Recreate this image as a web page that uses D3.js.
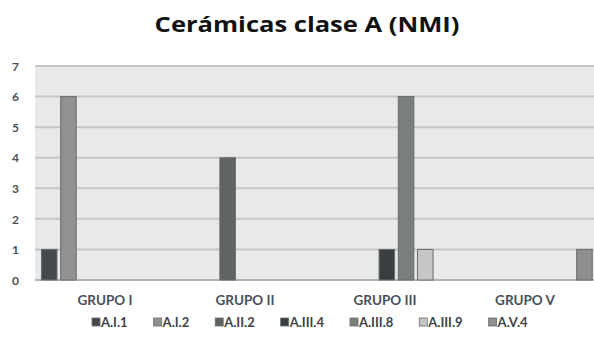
<!DOCTYPE html>
<html><head><meta charset="utf-8">
<script src="https://cdn.jsdelivr.net/npm/d3@7"></script>
<style>body{margin:0;background:#fff}svg{display:block}</style>
</head><body>
<svg id="c" width="594" height="344"></svg>
<script>
const categories = ["GRUPO I","GRUPO II","GRUPO III","GRUPO V"];
const seriesNames = ["A.I.1","A.I.2","A.II.2","A.III.4","A.III.8","A.III.9","A.V.4"];
const sA_I_1   = [1,0,0,0];
const sA_I_2   = [6,0,0,0];
const sA_II_2  = [0,4,0,0];
const sA_III_4 = [0,0,1,0];
const sA_III_8 = [0,0,6,0];
const sA_III_9 = [0,0,1,0];
const sA_V_4   = [0,0,0,1];
const yTicks = [0,1,2,3,4,5,6,7];
const colors = ["#46494b","#909191","#5f6363","#3b3e40","#7b7e7f","#c4c6c7","#8d8f90"];

const seriesValues = [sA_I_1,sA_I_2,sA_II_2,sA_III_4,sA_III_8,sA_III_9,sA_V_4];
const svg = d3.select("#c");
const font = "Lato, 'Open Sans', sans-serif";

const x0 = d3.scaleBand().domain(categories).range([35, 595]).padding(0);
const x1 = d3.scaleBand().domain(seriesNames).range([0, x0.bandwidth()])
  .paddingInner(0.19).paddingOuter(0.24).align(0.7);
const y = d3.scaleLinear().domain([0,7]).range([280, 66]);

// plot background
svg.append("rect").attr("x",35).attr("y",y(7)).attr("width",559).attr("height",y(0)-y(7)).attr("fill","#e9e9e9");

// gridlines
svg.append("g").selectAll("line").data(yTicks).join("line")
  .attr("x1",35).attr("x2",594)
  .attr("y1",d=>y(d)).attr("y2",d=>y(d))
  .attr("stroke",d=>d===0?"#b4b4b4":"#c6c6c6").attr("stroke-width",2);

// y axis labels
const yAxis = d3.axisLeft(y).tickValues(yTicks).tickSize(0).tickPadding(0).tickFormat(d3.format("d"));
const ya = svg.append("g").attr("transform","translate(19,0)").call(yAxis);
ya.select(".domain").remove();
ya.selectAll("text").attr("font-family",font).attr("font-weight","bold").attr("font-size",12).attr("fill","#4a4f58").attr("text-anchor","end").attr("dy","0.35em");

// bars
const groups = svg.append("g").selectAll("g").data(categories).join("g")
  .attr("transform",d=>`translate(${x0(d)},0)`);
groups.selectAll("rect").data((c,ci)=>seriesNames.map((s,si)=>({s,si,v:seriesValues[si][ci]})).filter(d=>d.v>0))
  .join("rect")
  .attr("x",d=>x1(d.s)).attr("width",x1.bandwidth())
  .attr("y",d=>y(d.v)).attr("height",d=>y(0)-y(d.v))
  .attr("fill",d=>colors[d.si]).attr("stroke","#6a6d6e").attr("stroke-width",1);

// category labels
const xAxis = d3.axisBottom(x0).tickSize(0).tickPadding(0);
const xa = svg.append("g").attr("transform","translate(0,300)").call(xAxis);
xa.select(".domain").remove();
xa.selectAll("text").attr("font-family",font).attr("font-weight","bold").attr("font-size",13.5).attr("fill","#4a4f58").attr("dy","0.35em");

// title (horizontally stretched to match reference width)
const tg = svg.append("g");
const tt = tg.append("text").attr("x",0).attr("y",0).attr("text-anchor","middle")
  .attr("font-family","'Open Sans', Lato, sans-serif").attr("font-weight","bold").attr("font-size",22).attr("fill","#111")
  .text("Cerámicas clase A (NMI)");
const tw = tt.node().getComputedTextLength();
tg.attr("transform",`translate(307,32) scale(${305/tw},1)`);

// legend
const leg = svg.append("g").attr("transform","translate(0,322)");
let lx = 92;
seriesNames.forEach((s,i)=>{
  const g = leg.append("g").attr("transform",`translate(${lx},0)`);
  g.append("rect").attr("x",0).attr("y",-4).attr("width",8).attr("height",8).attr("fill",colors[i]).attr("stroke","#6a6d6e").attr("stroke-width",0.8);
  const t = g.append("text").attr("x",9).attr("y",0).attr("dy","0.35em")
    .attr("font-family",font).attr("font-weight","bold").attr("font-size",13).attr("fill","#404448").text(s);
  lx += 9 + t.node().getComputedTextLength() + 26;
});
</script>
</body></html>
